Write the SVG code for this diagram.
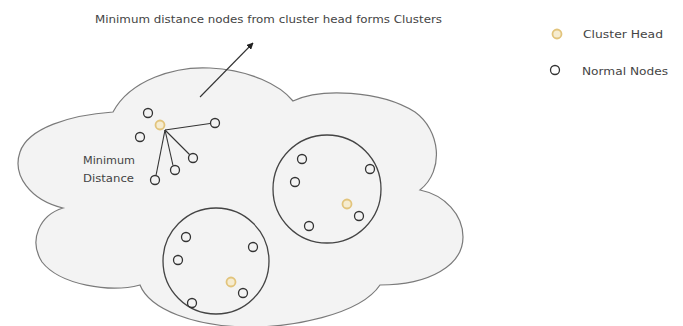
<svg xmlns="http://www.w3.org/2000/svg" width="683" height="326" viewBox="0 0 683 326">
  <defs>
    <style>
      .lbl { font-family: "DejaVu Sans", "Liberation Sans", sans-serif; font-size: 11px; fill: #444; }
      .node { fill: none; stroke: #333; stroke-width: 1.3; }
      .head { fill: #f6ecd0; stroke: #e2c47c; stroke-width: 1.8; }
      .cluster { fill: none; stroke: #444; stroke-width: 1.3; }
      .link { stroke: #333; stroke-width: 1.1; fill: none; }
    </style>
    <marker id="arrow" viewBox="0 0 10 10" refX="9" refY="5" markerWidth="7" markerHeight="7" orient="auto" markerUnits="userSpaceOnUse">
      <path d="M0,0 L10,5 L0,10 Z" fill="#222"/>
    </marker>
  </defs>

  <rect width="683" height="326" fill="#fff"/>

  <!-- network area -->
  <g id="cloud">
    <path d="M113,112 C130,80 175,66 210,68 C250,70 280,85 293,101
             C320,88 380,90 415,112 C440,130 445,170 420,190
             C445,195 463,215 463,237 C463,265 430,285 380,285
             C360,315 290,328 245,327 C195,326 150,310 140,285
             C110,293 60,285 42,262 C28,240 40,215 63,208
             C30,200 12,175 20,152 C28,128 70,115 113,112 Z"
          fill="#f3f3f3" stroke="#7a7a7a" stroke-width="1.2"/>
  </g>

  <text id="title" class="lbl" x="95" y="23" textLength="347" lengthAdjust="spacingAndGlyphs">Minimum distance nodes from cluster head forms Clusters</text>

  <!-- legend -->
  <g id="legend-head">
    <circle class="head" cx="557" cy="34" r="4.5"/>
    <text class="lbl" x="583" y="38" textLength="80" lengthAdjust="spacingAndGlyphs">Cluster Head</text>
  </g>
  <g id="legend-normal">
    <circle class="node" cx="555" cy="70" r="4.5"/>
    <text class="lbl" x="582" y="75" textLength="86" lengthAdjust="spacingAndGlyphs">Normal Nodes</text>
  </g>

  <!-- connectors -->
  <g id="connectors">
    <line class="link" x1="200" y1="97" x2="253" y2="43" marker-end="url(#arrow)"/>
    <line class="link" x1="165" y1="130" x2="210" y2="123.5"/>
    <line class="link" x1="165" y1="130" x2="189.5" y2="154.5"/>
    <line class="link" x1="165" y1="130" x2="173" y2="165.5"/>
    <line class="link" x1="165" y1="130" x2="156" y2="175.5"/>
  </g>

  <!-- forming cluster -->
  <g id="cluster-forming">
    <circle class="head" cx="160" cy="125" r="4.5"/>
    <circle class="node" cx="148" cy="113" r="4.5"/>
    <circle class="node" cx="140" cy="137" r="4.5"/>
    <circle class="node" cx="215" cy="123" r="4.5"/>
    <circle class="node" cx="193" cy="158" r="4.5"/>
    <circle class="node" cx="175" cy="170" r="4.5"/>
    <circle class="node" cx="155" cy="180" r="4.5"/>
    <text class="lbl" x="83" y="164" textLength="52" lengthAdjust="spacingAndGlyphs">Minimum</text>
    <text class="lbl" x="83" y="182" textLength="51" lengthAdjust="spacingAndGlyphs">Distance</text>
  </g>

  <!-- right cluster -->
  <g id="cluster-right">
    <circle class="cluster" cx="327" cy="189" r="54"/>
    <circle class="node" cx="302" cy="159" r="4.5"/>
    <circle class="node" cx="295" cy="182" r="4.5"/>
    <circle class="node" cx="370" cy="169" r="4.5"/>
    <circle class="head" cx="347" cy="204" r="4.5"/>
    <circle class="node" cx="359" cy="216" r="4.5"/>
    <circle class="node" cx="309" cy="226" r="4.5"/>
  </g>

  <!-- bottom cluster -->
  <g id="cluster-bottom">
    <circle class="cluster" cx="216" cy="261" r="53"/>
    <circle class="node" cx="186" cy="237" r="4.5"/>
    <circle class="node" cx="178" cy="260" r="4.5"/>
    <circle class="node" cx="253" cy="247" r="4.5"/>
    <circle class="head" cx="231" cy="282" r="4.5"/>
    <circle class="node" cx="243" cy="293" r="4.5"/>
    <circle class="node" cx="192" cy="303" r="4.5"/>
  </g>
</svg>
